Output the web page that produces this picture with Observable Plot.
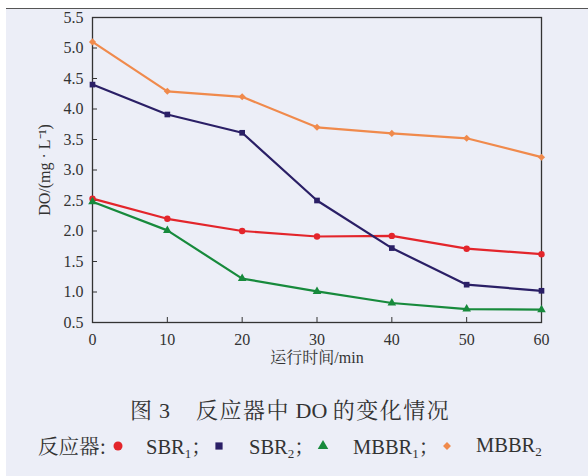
<!DOCTYPE html>
<html>
<head>
<meta charset="utf-8">
<script src="https://cdn.jsdelivr.net/npm/d3@7"></script>
<script src="https://cdn.jsdelivr.net/npm/@observablehq/plot@0.6"></script>
<style>
  html, body { margin: 0; padding: 0; background: #ffffff; }
  body { width: 588px; height: 476px; position: relative; overflow: hidden; }
  #page { position: absolute; left: 6px; top: 8px; right: 0; bottom: 0;
          background: #eceef7; border-top: 1.5px solid #555; }
  #chart { position: absolute; left: 0; top: 0; }
  #caption { position: absolute; left: 130px; top: 394px; font-size: 22px; line-height: 30px; color: #333; white-space: nowrap; }
  #caption .cjk { letter-spacing: 1.5px; }
  #legend { position: absolute; left: 0; top: 430px; width: 588px; height: 30px; font-size: 20.5px; line-height: 30px; color: #333; }
  #legend > * { position: absolute; top: 0; white-space: nowrap; }
  #legend sub { font-size: 13px; vertical-align: -4px; line-height: 0; }
</style>
</head>
<body>
<div id="page"></div>
<div id="chart"></div>
<div id="caption"><span class="cjk">图</span><span class="lat"> 3</span><span style="display:inline-block;width:26px"></span><span class="cjk">反应器中</span><span class="lat"> DO </span><span class="cjk">的变化情况</span></div>
<div id="legend"></div>
<script>
// Running time (min) and dissolved oxygen (mg/L) in each reactor
const times = [0, 10, 20, 30, 40, 50, 60];
const sbr1  = [2.53, 2.20, 2.00, 1.91, 1.92, 1.71, 1.62];
const sbr2  = [4.40, 3.91, 3.61, 2.50, 1.72, 1.12, 1.02];
const mbbr1 = [2.48, 2.01, 1.22, 1.01, 0.82, 0.72, 0.71];
const mbbr2 = [5.10, 4.29, 4.20, 3.70, 3.60, 3.52, 3.21];

const seriesNames = ["SBR1", "SBR2", "MBBR1", "MBBR2"];
const seriesLabels = [["SBR", "1"], ["SBR", "2"], ["MBBR", "1"], ["MBBR", "2"]];
const seriesColors = ["#e3252b", "#2a1f66", "#178a3c", "#f08a4c"];
const seriesSymbols = ["circle", "square", "triangle", "diamond2"];

const xTicks = [0, 10, 20, 30, 40, 50, 60];
const yTicks = [0.5, 1.0, 1.5, 2.0, 2.5, 3.0, 3.5, 4.0, 4.5, 5.0, 5.5];

const SERIF = "'Liberation Serif', 'Noto Serif CJK SC', serif";
const SERIF_CJK = "'Noto Serif CJK SC', 'Liberation Serif', serif";

const allValues = [sbr1, sbr2, mbbr1, mbbr2];
const rows = [];
allValues.forEach((vals, i) => {
  vals.forEach((v, j) => rows.push({series: seriesNames[i], t: times[j], v}));
});

const chart = Plot.plot({
  width: 588,
  height: 372,
  marginTop: 17,
  marginLeft: 92,
  marginRight: 47,
  marginBottom: 50,
  style: {
    fontFamily: SERIF,
    fontSize: "16px",
    color: "#333",
    background: "transparent"
  },
  x: {domain: [0, 60]},
  y: {domain: [0.5, 5.5]},
  color: {domain: seriesNames, range: seriesColors},
  symbol: {domain: seriesNames, range: seriesSymbols},
  marks: [
    Plot.frame({stroke: "#333", strokeWidth: 1.3}),
    Plot.axisX({
      ticks: xTicks, tickSize: -5, tickPadding: 16, tickFormat: d3.format("d"),
      label: "运行时间/min", labelAnchor: "center", labelOffset: 40, labelArrow: "none"
    }),
    Plot.axisY({
      ticks: yTicks, tickSize: -5, tickPadding: 14, tickFormat: d3.format(".1f"),
      label: "DO/(mg · L⁻¹)", labelAnchor: "center", labelOffset: 54, labelArrow: "none"
    }),
    Plot.line(rows, {x: "t", y: "v", z: "series", stroke: "series", strokeWidth: 2.2}),
    Plot.dot(rows, {x: "t", y: "v", fill: "series", symbol: "series", r: 3.2, stroke: "none"})
  ]
});
d3.select(chart).selectAll("text, tspan").style("font-family", SERIF);
document.getElementById("chart").appendChild(chart);

d3.selectAll("#caption .cjk").style("font-family", SERIF_CJK);
d3.selectAll("#caption .lat").style("font-family", SERIF);

// Legend line: reactor label followed by each series symbol and name
const legendSymbolX = [118, 219, 323, 447];
const legendTextX = [146, 249, 353, 476];
const legend = d3.select("#legend");
legend.append("span").style("left", "38px").style("font-family", SERIF_CJK).text("反应器:");
const shapeSize = {circle: 64, square: 52, triangle: 48, diamond2: 40};
const symbolTypes = {circle: d3.symbolCircle, square: d3.symbolSquare, triangle: d3.symbolTriangle, diamond2: d3.symbolDiamond2};
seriesNames.forEach((name, i) => {
  const svg = legend.append("svg").attr("width", 16).attr("height", 16)
    .style("left", (legendSymbolX[i] - 8) + "px").style("top", "8px");
  svg.append("path").attr("transform", "translate(8,8)")
    .attr("d", d3.symbol(symbolTypes[seriesSymbols[i]], shapeSize[seriesSymbols[i]])())
    .attr("fill", seriesColors[i]);
  const item = legend.append("span").style("left", legendTextX[i] + "px");
  item.append("span").style("font-family", SERIF).text(seriesLabels[i][0]);
  item.append("sub").style("font-family", SERIF).text(seriesLabels[i][1]);
  if (i < seriesNames.length - 1) item.append("span").style("font-family", SERIF_CJK).text("；");
});
</script>
</body>
</html>
